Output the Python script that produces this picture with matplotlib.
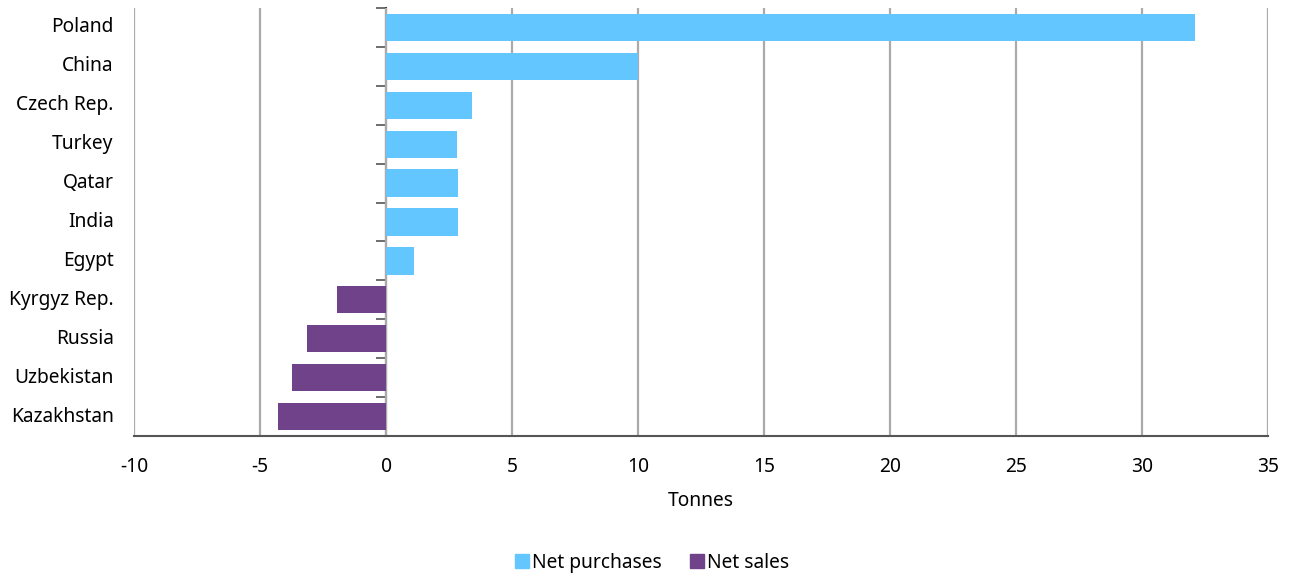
import matplotlib
matplotlib.use("Agg")
import matplotlib.pyplot as plt
import numpy as np

plt.rcParams["font.family"] = ["Noto Sans", "DejaVu Sans"]
plt.rcParams["axes.unicode_minus"] = False

countries = ["Poland", "China", "Czech Rep.", "Turkey", "Qatar", "India", "Egypt",
             "Kyrgyz Rep.", "Russia", "Uzbekistan", "Kazakhstan"]
tonnes = [32.1, 10.0, 3.4, 2.8, 2.85, 2.85, 1.1, -1.95, -3.12, -3.75, -4.3]

blue = "#64C6FF"
purple = "#70428A"
fs = 13.8

fig = plt.figure(figsize=(12.9, 5.74), dpi=100)
ax = fig.add_axes([0.1039, 0.2404, 0.8791, 0.7456])

y = np.arange(len(countries))
colors = [blue if v > 0 else purple for v in tonnes]
ax.barh(y, tonnes, height=0.7, color=colors, zorder=3)

ax.set_xlim(-10, 35)
ax.set_ylim(len(countries) - 0.5, -0.5)
ax.set_xticks(np.arange(-10, 36, 5))
ax.grid(axis="x", color="#AAAAAA", linewidth=1.6, zorder=0)
ax.tick_params(axis="x", labelsize=fs, length=0, pad=15)
ax.set_xlabel("Tonnes", fontsize=fs, labelpad=10)

for s in ["top", "right", "left"]:
    ax.spines[s].set_visible(False)
ax.spines["bottom"].set_color("#555555")
ax.spines["bottom"].set_linewidth(1.5)
ax.spines["bottom"].set_zorder(4)

# category labels on the left edge
ax.set_yticks([])
for i, c in enumerate(countries):
    ax.text(-0.018, i, c, transform=ax.get_yaxis_transform(), ha="right",
            va="center", fontsize=fs)

# zero axis with ticks between categories
sec = ax.secondary_yaxis(10 / 45)
sec.set_yticks(np.arange(len(countries) + 1) - 0.5)
sec.set_yticklabels([])
sec.tick_params(length=7, width=1.2, color="#555555")
sec.spines["left"].set_color("#444444")
sec.spines["left"].set_linewidth(1.5)

handles = [plt.Line2D([], [], marker="s", linestyle="", color=blue, markersize=10),
           plt.Line2D([], [], marker="s", linestyle="", color=purple, markersize=10)]
fig.legend(handles, ["Net purchases", "Net sales"], loc="center",
           bbox_to_anchor=(0.5045, 0.019), ncol=2, frameon=False, fontsize=fs,
           handlelength=1.0, handletextpad=0.05, columnspacing=1.3)

fig.savefig("out.png", dpi=100)
